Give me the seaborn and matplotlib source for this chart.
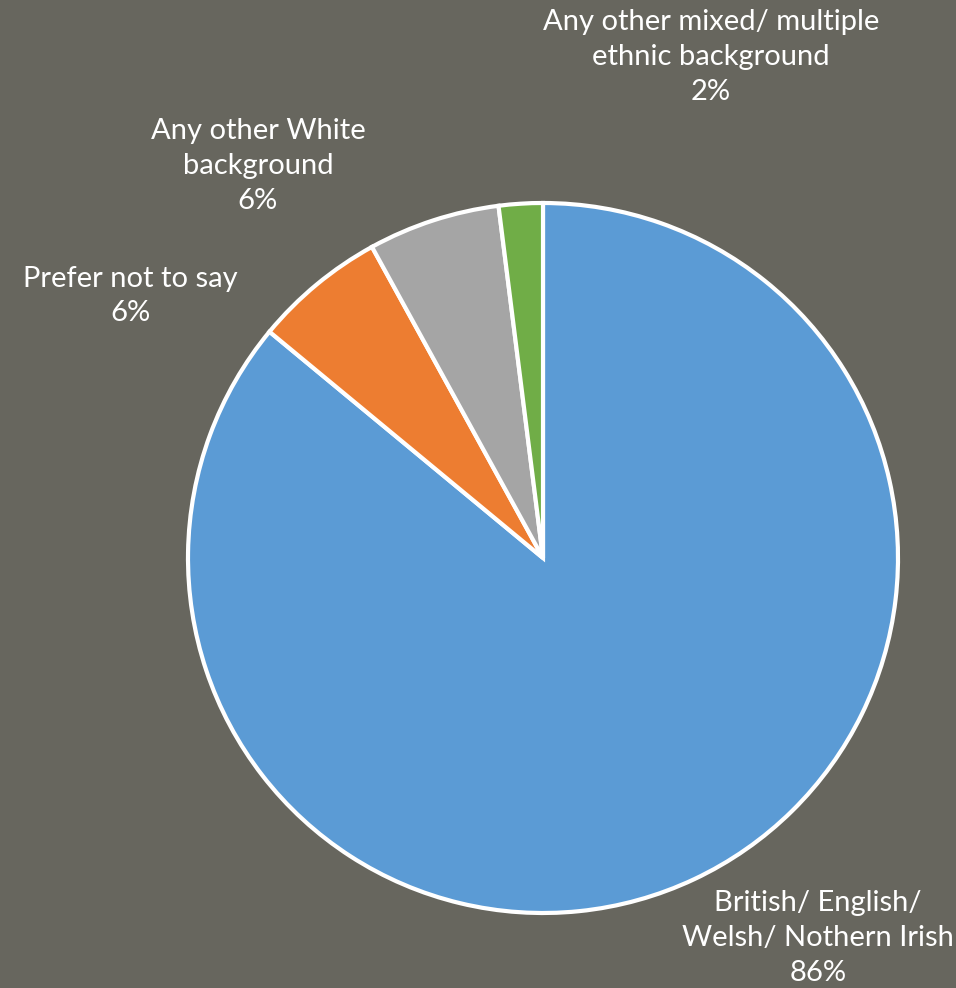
import matplotlib
matplotlib.use("Agg")
import matplotlib.pyplot as plt
import seaborn as sns

# --------------------------------
# Data
# --------------------------------
categories = [
    "British/ English/\nWelsh/ Nothern Irish",
    "Prefer not to say",
    "Any other White\nbackground",
    "Any other mixed/ multiple\nethnic background",
]
shares = [86, 6, 6, 2]
colors = ["#5B9BD5", "#ED7D31", "#A5A5A5", "#70AD47"]

# label centres in pie-radius units (layout only)
label_pos = [(0.775, -1.07), (-1.163, 0.738), (-0.803, 1.104), (0.473, 1.411)]

BG = "#67665E"


def main():
    sns.set_theme(style="white")
    plt.rcParams["font.family"] = ["Lato", "DejaVu Sans"]

    fig = plt.figure(figsize=(9.56, 9.88), dpi=100)
    fig.patch.set_facecolor(BG)

    # axes sized so the pie radius is ~355 px, centred at (543, 558)
    ax = fig.add_axes([188 / 956, 75 / 988, 710 / 956, 710 / 988])
    ax.set_facecolor(BG)

    wedges, _ = ax.pie(
        shares,
        colors=colors,
        startangle=90,
        counterclock=False,
        radius=1.0,
        wedgeprops=dict(edgecolor="white", linewidth=3, joinstyle="miter"),
    )
    ax.set_xlim(-1, 1)
    ax.set_ylim(-1, 1)
    ax.set_aspect("equal")
    ax.axis("off")

    for name, val, (x, y) in zip(categories, shares, label_pos):
        ax.text(x, y, f"{name}\n{val}%", ha="center", va="center",
                color="white", fontsize=21,
                linespacing=1.42, clip_on=False)

    fig.savefig("out.png", dpi=100, facecolor=BG)
    plt.close(fig)


if __name__ == "__main__":
    main()
